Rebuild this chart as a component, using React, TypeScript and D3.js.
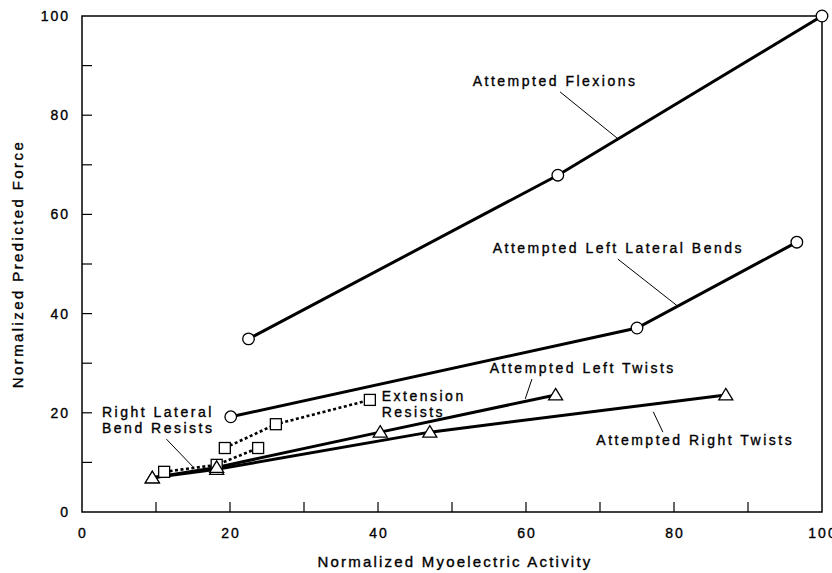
import React from 'react';
import * as d3 from 'd3';

// values (x = normalized myoelectric activity, y = normalized predicted force)
const flexX = [22.5, 64.3, 100];
const flexY = [34.9, 67.9, 100];
const leftBendX = [20.1, 75, 96.6];
const leftBendY = [19.2, 37.1, 54.4];
const leftTwistX = [9.5, 18.2, 40.3, 64];
const leftTwistY = [6.9, 9.0, 16.1, 23.6];
const rightTwistX = [9.5, 18.2, 47, 87];
const rightTwistY = [6.9, 8.6, 16.1, 23.6];
const extX = [19.3, 26.2, 38.9];
const extY = [12.9, 17.7, 22.6];
const rlbX = [11.1, 18.2, 23.8];
const rlbY = [8.1, 9.5, 12.9];

const xTicks = [0, 20, 40, 60, 80, 100];
const yTicks = [0, 20, 40, 60, 80, 100];
const minorTicks = [10, 20, 30, 40, 50, 60, 70, 80, 90];

const W = 832,
  H = 573;
const margin = { top: 16, right: 10, bottom: 61, left: 82 };
const FONT = '"Liberation Sans", Arial, Helvetica, sans-serif';

type Series = { xs: number[]; ys: number[]; marker: 'circle' | 'triangle' | 'square'; dotted?: boolean };

const series: Series[] = [
  { xs: rlbX, ys: rlbY, marker: 'square', dotted: true },
  { xs: extX, ys: extY, marker: 'square', dotted: true },
  { xs: rightTwistX, ys: rightTwistY, marker: 'triangle' },
  { xs: leftTwistX, ys: leftTwistY, marker: 'triangle' },
  { xs: leftBendX, ys: leftBendY, marker: 'circle' },
  { xs: flexX, ys: flexY, marker: 'circle' }
];

export default function App() {
  const x = d3.scaleLinear().domain([0, 100]).range([margin.left, W - margin.right]);
  const y = d3.scaleLinear().domain([0, 100]).range([H - margin.bottom, margin.top]);
  const line = d3
    .line<[number, number]>()
    .x(d => x(d[0]))
    .y(d => y(d[1]));

  // annotations, in data units: text anchor + leader line
  const labels = [
    { lines: ['Attempted Flexions'], at: [52.8, 85.9], lead: [[64.6, 84.7], [72.3, 75.4]] },
    { lines: ['Attempted Left Lateral Bends'], at: [55.5, 52.2], lead: [[72.4, 51.0], [80.5, 41.5]] },
    { lines: ['Attempted Left Twists'], at: [55.1, 28.0], lead: [[60.8, 26.8], [59.9, 22.8]] },
    { lines: ['Extension', 'Resists'], at: [40.5, 22.4], lead: null },
    { lines: ['Attempted Right Twists'], at: [69.5, 13.5], lead: [[77.2, 20.2], [78.5, 16.1]] },
    { lines: ['Right Lateral', 'Bend Resists'], at: [2.7, 19.2], lead: [[11.4, 14.7], [15, 9.1]] }
  ];

  const marker = (m: string, cx: number, cy: number, k: string) => {
    if (m === 'circle') return <circle key={k} cx={cx} cy={cy} r={5.8} fill="#fff" stroke="#000" strokeWidth={1.3} />;
    if (m === 'square')
      return <rect key={k} x={cx - 5.5} y={cy - 5.5} width={11} height={11} fill="#fff" stroke="#000" strokeWidth={1.3} />;
    return (
      <path
        key={k}
        d={`M${cx},${cy - 6.5} L${cx + 7},${cy + 5} L${cx - 7},${cy + 5} Z`}
        fill="#fff"
        stroke="#000"
        strokeWidth={1.3}
      />
    );
  };

  const x0 = x(0),
    x1 = x(100),
    y0 = y(0),
    y1 = y(100);

  const ink = { fill: '#000', stroke: '#000', strokeWidth: 0.35 };

  return (
    <svg width={W} height={H} style={{ position: 'absolute', left: 0, top: 0, background: '#fff' }} fontFamily={FONT}>
      {/* frame */}
      <path d={`M${x0},${y1} L${x1},${y1} L${x1},${y0} L${x0},${y0} Z`} fill="none" stroke="#000" strokeWidth={1.5} />
      {/* inward ticks */}
      {minorTicks.map(t => (
        <line key={'xt' + t} x1={x(t)} x2={x(t)} y1={y0} y2={y0 - 10} stroke="#000" strokeWidth={1.2} />
      ))}
      {minorTicks.map(t => (
        <line key={'yt' + t} x1={x0} x2={x0 + 10} y1={y(t)} y2={y(t)} stroke="#000" strokeWidth={1.2} />
      ))}
      {xTicks.map(t => (
        <text key={'xl' + t} x={x(t) + 1} y={y0 + 26} textAnchor="middle" fontSize={14} letterSpacing={2} {...ink}>
          {t}
        </text>
      ))}
      {yTicks.map(t => (
        <text key={'yl' + t} x={x0 - 12} y={y(t) + 5} textAnchor="end" fontSize={14} letterSpacing={2} {...ink}>
          {t}
        </text>
      ))}
      <text x={(x0 + x1) / 2 + 3} y={567} textAnchor="middle" fontSize={15} letterSpacing={2.2} {...ink}>
        Normalized Myoelectric Activity
      </text>
      <text
        transform={`translate(23,${(y0 + y1) / 2}) rotate(-90)`}
        textAnchor="middle"
        fontSize={15}
        letterSpacing={2.4}
        {...ink}
      >
        Normalized Predicted Force
      </text>

      {/* series lines */}
      {series.map((s, i) => (
        <path
          key={'l' + i}
          d={line(s.xs.map((v, j) => [v, s.ys[j]] as [number, number])) || ''}
          fill="none"
          stroke="#000"
          strokeWidth={s.dotted ? 2.6 : 3}
          strokeDasharray={s.dotted ? '3,2.5' : undefined}
        />
      ))}

      {/* annotations */}
      {labels.map((l, i) => (
        <g key={'a' + i}>
          {l.lead && (
            <line
              x1={x(l.lead[0][0])}
              y1={y(l.lead[0][1])}
              x2={x(l.lead[1][0])}
              y2={y(l.lead[1][1])}
              stroke="#000"
              strokeWidth={1}
            />
          )}
          {l.lines.map((t, j) => (
            <text key={j} x={x(l.at[0])} y={y(l.at[1]) + j * 16} fontSize={14} letterSpacing={2.5} {...ink}>
              {t}
            </text>
          ))}
        </g>
      ))}

      {/* markers */}
      {series.map((s, i) => s.xs.map((v, j) => marker(s.marker, x(v), y(s.ys[j]), `m${i}-${j}`)))}
    </svg>
  );
}
